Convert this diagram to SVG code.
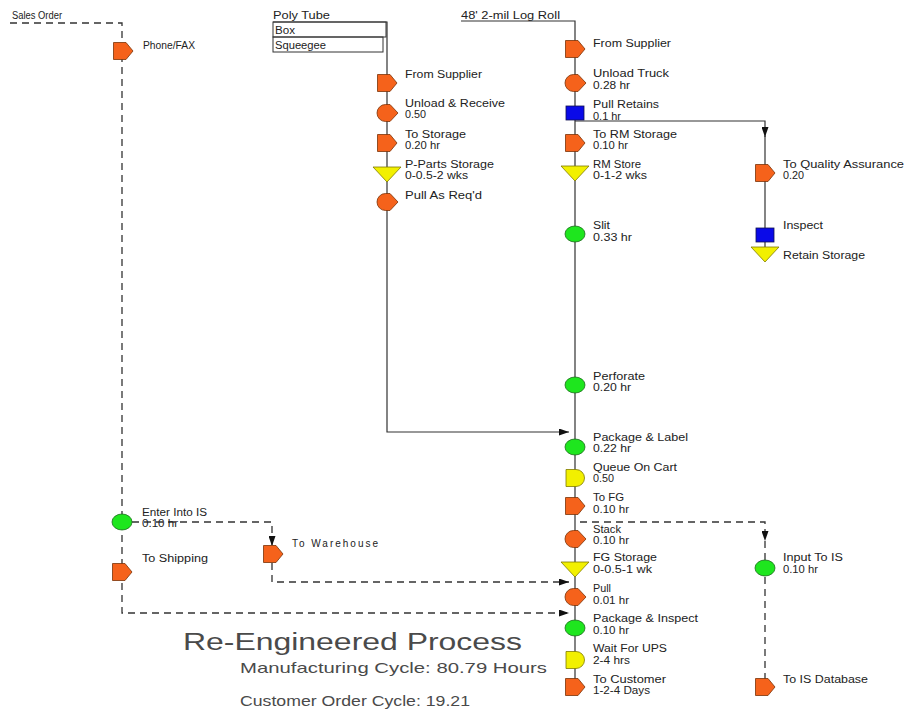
<svg xmlns="http://www.w3.org/2000/svg" xmlns:xlink="http://www.w3.org/1999/xlink" width="906" height="711" viewBox="0 0 906 711">
  <style>
    .lbl { font-family: "Liberation Sans", Arial, sans-serif; font-size: 10px; fill: #222; }
    .big { font-family: "Liberation Sans", Arial, sans-serif; fill: #4a4a4a; }
    .flow { fill: none; stroke: #333; stroke-width: 1.2; }
    .info { fill: none; stroke: #333; stroke-width: 1.3; stroke-dasharray: 7 5; }
    .orange { fill: #F5621B; stroke: #7a3208; stroke-width: 0.8; }
    .green { fill: #1EE61E; stroke: #1d6b1d; stroke-width: 0.8; }
    .blue { fill: #0A0AE8; stroke: #111150; stroke-width: 0.8; }
    .yellow { fill: #F2F000; stroke: #7f7a00; stroke-width: 0.8; }
    .box { fill: none; stroke: #333; stroke-width: 1; }
  </style>
  <defs>
    <marker id="arrow" viewBox="0 0 10 7" refX="10" refY="3.5" markerWidth="10" markerHeight="7" markerUnits="userSpaceOnUse" orient="auto">
      <path d="M0,0 L10,3.5 L0,7 Z" fill="#111"/>
    </marker>
    <!-- process chart symbols, centred on the origin -->
    <path id="transport" d="M-9.5,-8.5 H3 L10,0 L3,8.5 H-9.5 Z"/>
    <path id="opOrange" d="M11,0 L3,-8.5 H-1.5 A8.5,8.5 0 0 0 -1.5,8.5 H3 Z"/>
    <ellipse id="opGreen" cx="0" cy="0" rx="10" ry="8"/>
    <rect id="inspect" x="-9" y="-7" width="18" height="14"/>
    <path id="storage" d="M-14,0 H14 L0,15 Z"/>
    <path id="delay" d="M-9,-8.5 H1 A8.5,8.5 0 0 1 1,8.5 H-9 Z"/>
  </defs>

  <rect width="906" height="711" fill="#fff"/>

  <!-- connectors -->
  <g id="connectors">
    <!-- material flows -->
    <path class="flow" d="M461,21 H575 V680"/>
    <path class="flow" d="M273,22 H387 V432 H569" marker-end="url(#arrow)"/>
    <rect class="box" x="273" y="22" width="113" height="15"/>
    <rect class="box" x="273" y="37" width="110" height="15"/>
    <path class="flow" d="M575,121 H765 V137" marker-end="url(#arrow)"/>
    <path class="flow" d="M765,136 V256"/>
    <!-- information flows -->
    <path class="info" d="M10,23 H122 V613 H569" marker-end="url(#arrow)"/>
    <path class="info" d="M132,522 H272 V546" marker-end="url(#arrow)"/>
    <path class="info" d="M272,563 V582 H569" marker-end="url(#arrow)"/>
    <path class="info" d="M580,522 H765 V541" marker-end="url(#arrow)"/>
    <path class="info" d="M765,541 V680"/>
  </g>

  <!-- raw material labels -->
  <g id="rawMaterials">
    <text class="lbl" x="12" y="19" textLength="50" lengthAdjust="spacingAndGlyphs">Sales Order</text>
    <text class="lbl" x="273" y="19" textLength="57" lengthAdjust="spacingAndGlyphs">Poly Tube</text>
    <text class="lbl" x="275" y="34" textLength="20" lengthAdjust="spacingAndGlyphs">Box</text>
    <text class="lbl" x="275" y="49" textLength="51" lengthAdjust="spacingAndGlyphs">Squeegee</text>
    <text class="lbl" x="461" y="19" textLength="99" lengthAdjust="spacingAndGlyphs">48' 2-mil Log Roll</text>
  </g>

  <!-- order information column -->
  <g id="phoneFax">
    <use href="#transport" class="orange" x="123" y="51"/>
    <text class="lbl" x="143" y="49" textLength="52" lengthAdjust="spacingAndGlyphs">Phone/FAX</text>
  </g>
  <g id="enterIS">
    <use href="#opGreen" class="green" x="122" y="522"/>
    <text class="lbl" x="142" y="516" textLength="65" lengthAdjust="spacingAndGlyphs">Enter Into IS</text>
    <text class="lbl" x="142" y="527" textLength="36" lengthAdjust="spacingAndGlyphs">0.10 hr</text>
  </g>
  <g id="toShipping">
    <use href="#transport" class="orange" x="122" y="572"/>
    <text class="lbl" x="142" y="562" textLength="66" lengthAdjust="spacingAndGlyphs">To Shipping</text>
  </g>
  <g id="toWarehouse">
    <use href="#transport" class="orange" x="273" y="554"/>
    <text class="lbl" x="292" y="547" textLength="86" lengthAdjust="spacing">To  Warehouse</text>
  </g>

  <!-- purchased parts column -->
  <g id="partsFromSupplier">
    <use href="#transport" class="orange" x="387" y="83"/>
    <text class="lbl" x="405" y="78" textLength="77" lengthAdjust="spacingAndGlyphs">From Supplier</text>
  </g>
  <g id="unloadReceive">
    <use href="#opOrange" class="orange" x="387" y="113"/>
    <text class="lbl" x="405" y="107" textLength="100" lengthAdjust="spacingAndGlyphs">Unload &amp; Receive</text>
    <text class="lbl" x="405" y="118" textLength="21" lengthAdjust="spacingAndGlyphs">0.50</text>
  </g>
  <g id="toStorage">
    <use href="#transport" class="orange" x="387" y="143"/>
    <text class="lbl" x="405" y="138" textLength="61" lengthAdjust="spacingAndGlyphs">To Storage</text>
    <text class="lbl" x="405" y="149" textLength="35" lengthAdjust="spacingAndGlyphs">0.20 hr</text>
  </g>
  <g id="partsStorage">
    <use href="#storage" class="yellow" x="387" y="167"/>
    <text class="lbl" x="405" y="168" textLength="89" lengthAdjust="spacingAndGlyphs">P-Parts Storage</text>
    <text class="lbl" x="405" y="179" textLength="63" lengthAdjust="spacingAndGlyphs">0-0.5-2 wks</text>
  </g>
  <g id="pullAsReqd">
    <use href="#opOrange" class="orange" x="387" y="202"/>
    <text class="lbl" x="405" y="199" textLength="77" lengthAdjust="spacingAndGlyphs">Pull As Req'd</text>
  </g>

  <!-- main film column -->
  <g id="fromSupplier">
    <use href="#transport" class="orange" x="575" y="49"/>
    <text class="lbl" x="593" y="47" textLength="78" lengthAdjust="spacingAndGlyphs">From Supplier</text>
  </g>
  <g id="unloadTruck">
    <use href="#opOrange" class="orange" x="575" y="83"/>
    <text class="lbl" x="593" y="77" textLength="76" lengthAdjust="spacingAndGlyphs">Unload Truck</text>
    <text class="lbl" x="593" y="89" textLength="37" lengthAdjust="spacingAndGlyphs">0.28 hr</text>
  </g>
  <g id="pullRetains">
    <use href="#inspect" class="blue" x="575" y="113"/>
    <text class="lbl" x="593" y="108" textLength="66" lengthAdjust="spacingAndGlyphs">Pull Retains</text>
    <text class="lbl" x="593" y="120" textLength="28" lengthAdjust="spacingAndGlyphs">0.1 hr</text>
  </g>
  <g id="toRMStorage">
    <use href="#transport" class="orange" x="575" y="143"/>
    <text class="lbl" x="593" y="138" textLength="84" lengthAdjust="spacingAndGlyphs">To RM Storage</text>
    <text class="lbl" x="593" y="149" textLength="35" lengthAdjust="spacingAndGlyphs">0.10 hr</text>
  </g>
  <g id="rmStore">
    <use href="#storage" class="yellow" x="575" y="166"/>
    <text class="lbl" x="593" y="168" textLength="48" lengthAdjust="spacingAndGlyphs">RM Store</text>
    <text class="lbl" x="593" y="179" textLength="54" lengthAdjust="spacingAndGlyphs">0-1-2 wks</text>
  </g>
  <g id="slit">
    <use href="#opGreen" class="green" x="575" y="234"/>
    <text class="lbl" x="593" y="229" textLength="17" lengthAdjust="spacingAndGlyphs">Slit</text>
    <text class="lbl" x="593" y="241" textLength="39" lengthAdjust="spacingAndGlyphs">0.33 hr</text>
  </g>
  <g id="perforate">
    <use href="#opGreen" class="green" x="575" y="385"/>
    <text class="lbl" x="593" y="380" textLength="52" lengthAdjust="spacingAndGlyphs">Perforate</text>
    <text class="lbl" x="593" y="391" textLength="38" lengthAdjust="spacingAndGlyphs">0.20 hr</text>
  </g>
  <g id="packageLabel">
    <use href="#opGreen" class="green" x="575" y="447"/>
    <text class="lbl" x="593" y="441" textLength="95" lengthAdjust="spacingAndGlyphs">Package &amp; Label</text>
    <text class="lbl" x="593" y="452" textLength="38" lengthAdjust="spacingAndGlyphs">0.22 hr</text>
  </g>
  <g id="queueOnCart">
    <use href="#delay" class="yellow" x="575" y="478"/>
    <text class="lbl" x="593" y="471" textLength="84" lengthAdjust="spacingAndGlyphs">Queue On Cart</text>
    <text class="lbl" x="593" y="482" textLength="21" lengthAdjust="spacingAndGlyphs">0.50</text>
  </g>
  <g id="toFG">
    <use href="#transport" class="orange" x="575" y="506"/>
    <text class="lbl" x="593" y="501" textLength="31" lengthAdjust="spacingAndGlyphs">To FG</text>
    <text class="lbl" x="593" y="513" textLength="36" lengthAdjust="spacingAndGlyphs">0.10 hr</text>
  </g>
  <g id="stack">
    <use href="#opOrange" class="orange" x="575" y="539"/>
    <text class="lbl" x="593" y="533" textLength="28" lengthAdjust="spacingAndGlyphs">Stack</text>
    <text class="lbl" x="593" y="544" textLength="36" lengthAdjust="spacingAndGlyphs">0.10 hr</text>
  </g>
  <g id="fgStorage">
    <use href="#storage" class="yellow" x="575" y="562"/>
    <text class="lbl" x="593" y="561" textLength="64" lengthAdjust="spacingAndGlyphs">FG Storage</text>
    <text class="lbl" x="593" y="573" textLength="59" lengthAdjust="spacingAndGlyphs">0-0.5-1 wk</text>
  </g>
  <g id="pull">
    <use href="#opOrange" class="orange" x="575" y="597"/>
    <text class="lbl" x="593" y="592" textLength="18" lengthAdjust="spacingAndGlyphs">Pull</text>
    <text class="lbl" x="593" y="604" textLength="36" lengthAdjust="spacingAndGlyphs">0.01 hr</text>
  </g>
  <g id="packageInspect">
    <use href="#opGreen" class="green" x="575" y="628"/>
    <text class="lbl" x="593" y="622" textLength="105" lengthAdjust="spacingAndGlyphs">Package &amp; Inspect</text>
    <text class="lbl" x="593" y="634" textLength="36" lengthAdjust="spacingAndGlyphs">0.10 hr</text>
  </g>
  <g id="waitForUPS">
    <use href="#delay" class="yellow" x="575" y="660"/>
    <text class="lbl" x="593" y="652" textLength="74" lengthAdjust="spacingAndGlyphs">Wait For UPS</text>
    <text class="lbl" x="593" y="664" textLength="37" lengthAdjust="spacingAndGlyphs">2-4 hrs</text>
  </g>
  <g id="toCustomer">
    <use href="#transport" class="orange" x="575" y="687"/>
    <text class="lbl" x="593" y="683" textLength="73" lengthAdjust="spacingAndGlyphs">To Customer</text>
    <text class="lbl" x="593" y="694" textLength="57" lengthAdjust="spacingAndGlyphs">1-2-4 Days</text>
  </g>

  <!-- quality assurance column -->
  <g id="toQA">
    <use href="#transport" class="orange" x="765" y="173"/>
    <text class="lbl" x="783" y="168" textLength="121" lengthAdjust="spacingAndGlyphs">To Quality Assurance</text>
    <text class="lbl" x="783" y="179" textLength="21" lengthAdjust="spacingAndGlyphs">0.20</text>
  </g>
  <g id="inspectQA">
    <use href="#inspect" class="blue" x="765" y="235"/>
    <text class="lbl" x="783" y="229" textLength="40" lengthAdjust="spacingAndGlyphs">Inspect</text>
  </g>
  <g id="retainStorage">
    <use href="#storage" class="yellow" x="765" y="247"/>
    <text class="lbl" x="783" y="259" textLength="82" lengthAdjust="spacingAndGlyphs">Retain Storage</text>
  </g>

  <!-- information system column -->
  <g id="inputIS">
    <use href="#opGreen" class="green" x="765" y="568"/>
    <text class="lbl" x="783" y="561" textLength="60" lengthAdjust="spacingAndGlyphs">Input To IS</text>
    <text class="lbl" x="783" y="573" textLength="35" lengthAdjust="spacingAndGlyphs">0.10 hr</text>
  </g>
  <g id="toISDatabase">
    <use href="#transport" class="orange" x="765" y="687"/>
    <text class="lbl" x="783" y="683" textLength="85" lengthAdjust="spacingAndGlyphs">To IS Database</text>
  </g>

  <!-- title block -->
  <g id="title">
    <text class="big" x="183" y="650" font-size="23" textLength="339" lengthAdjust="spacingAndGlyphs" fill="#555">Re-Engineered Process</text>
    <text class="big" x="240" y="673" font-size="15" textLength="307" lengthAdjust="spacingAndGlyphs" fill="#333">Manufacturing Cycle: 80.79 Hours</text>
    <text class="big" x="240" y="706" font-size="15" textLength="230" lengthAdjust="spacingAndGlyphs" fill="#333">Customer Order Cycle: 19.21</text>
  </g>
</svg>
